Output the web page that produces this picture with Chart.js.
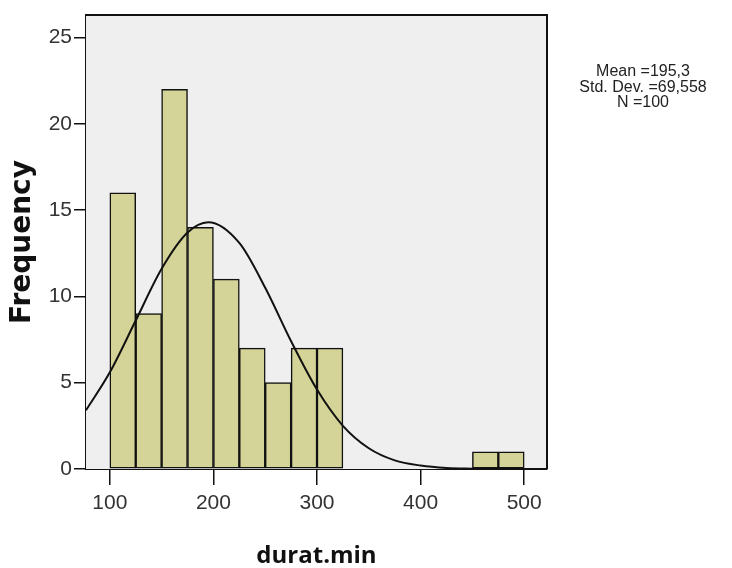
<!DOCTYPE html>
<html>
<head>
<meta charset="utf-8">
<title>durat.min histogram</title>
<script src="https://cdn.jsdelivr.net/npm/chart.js@4.4.1/dist/chart.umd.min.js"></script>
<style>
  body { margin: 0; background: #fff; }
  #chart { display: block; }
</style>
</head>
<body>
<canvas id="chart" width="732" height="568"></canvas>
<script>
// histogram bins (start of each 25-min bin) and counts
const binStarts = [100, 125, 150, 175, 200, 225, 250, 275, 300, 450, 475];
const frequencies = [16, 9, 22, 14, 11, 7, 5, 7, 7, 1, 1];
const binWidth = 25;

// normal curve
const curveX = [77, 100, 125, 150, 175, 195, 225, 250, 275, 300, 325, 350, 375, 400, 425, 450, 475, 500, 522];
const curveY = [3.4, 5.6, 8.6, 11.6, 13.7, 14.3, 13.1, 10.5, 7.4, 4.6, 2.5, 1.2, 0.5, 0.2, 0.06, 0.02, 0, 0, 0];

const xTicks = [100, 200, 300, 400, 500];
const yTicks = [0, 5, 10, 15, 20, 25];

const statsLines = ["Mean =195,3", "Std. Dev. =69,558", "N =100"];

const tickFont = "'Liberation Sans', Arial, sans-serif";

// grey plot background + top/right frame
const plotFrame = {
  id: "plotFrame",
  beforeDatasetsDraw(chart) {
    const { ctx, chartArea: a } = chart;
    ctx.save();
    ctx.fillStyle = "#efefef";
    ctx.fillRect(a.left, a.top, a.right - a.left, a.bottom - a.top);
    ctx.restore();
  },
  afterDraw(chart) {
    const { ctx, chartArea: a } = chart;
    ctx.save();
    ctx.strokeStyle = "#111";
    ctx.lineWidth = 2;
    ctx.beginPath();
    ctx.moveTo(a.left, a.top);
    ctx.lineTo(a.right, a.top);
    ctx.lineTo(a.right, a.bottom);
    ctx.stroke();
    // stats text on the right
    ctx.fillStyle = "#222";
    ctx.font = "16px " + tickFont;
    ctx.textAlign = "center";
    ctx.textBaseline = "middle";
    statsLines.forEach((t, i) => ctx.fillText(t, 643, 72 + i * 15.5));
    ctx.restore();
  }
};

new Chart(document.getElementById("chart"), {
  data: {
    datasets: [
      {
        type: "line",
        data: curveX.map((x, i) => ({ x: x, y: curveY[i] })),
        borderColor: "#111",
        borderWidth: 2,
        pointRadius: 0,
        cubicInterpolationMode: "monotone",
        order: 0
      },
      {
        type: "bar",
        data: binStarts.map((s, i) => ({ x: s + binWidth / 2, y: frequencies[i] })),
        backgroundColor: "rgb(212,212,152)",
        borderColor: "#111",
        borderWidth: 1.5,
        borderSkipped: false,
        barPercentage: 1,
        categoryPercentage: 1,
        order: 1
      }
    ]
  },
  options: {
    responsive: false,
    animation: false,
    layout: { padding: { left: 0, top: 15, right: 185, bottom: 0 } },
    plugins: { legend: { display: false }, tooltip: { enabled: false } },
    scales: {
      x: {
        type: "linear",
        min: 77,
        max: 522,
        offset: false,
        afterBuildTicks: (s) => { s.ticks = xTicks.map(v => ({ value: v })); },
        afterFit: (s) => { s.height = 99; },
        grid: { offset: false, drawOnChartArea: false, tickLength: 16, color: "#111", lineWidth: 1.5 },
        border: { color: "#111", width: 2 },
        ticks: { font: { family: tickFont, size: 21, lineHeight: 1 }, color: "#333", padding: 8, maxRotation: 0 },
        title: {
          display: true,
          text: "durat.min",
          font: { family: "'Open Sans', sans-serif", size: 24, weight: "bold", lineHeight: 1 },
          color: "#111",
          padding: 0
        }
      },
      y: {
        min: 0,
        max: 26.3,
        afterBuildTicks: (s) => { s.ticks = yTicks.map(v => ({ value: v })); },
        afterFit: (s) => { s.width = 86; },
        grid: { drawOnChartArea: false, tickLength: 12, color: "#111", lineWidth: 1.5 },
        border: { color: "#111", width: 2 },
        ticks: { font: { family: tickFont, size: 21, lineHeight: 1 }, color: "#333", padding: 2 },
        title: {
          display: true,
          text: "Frequency",
          font: { family: "'DejaVu Sans', sans-serif", size: 28, weight: "bold", lineHeight: 1 },
          color: "#111",
          padding: { top: 9, bottom: 0 }
        }
      }
    }
  },
  plugins: [plotFrame]
});
</script>
</body>
</html>
